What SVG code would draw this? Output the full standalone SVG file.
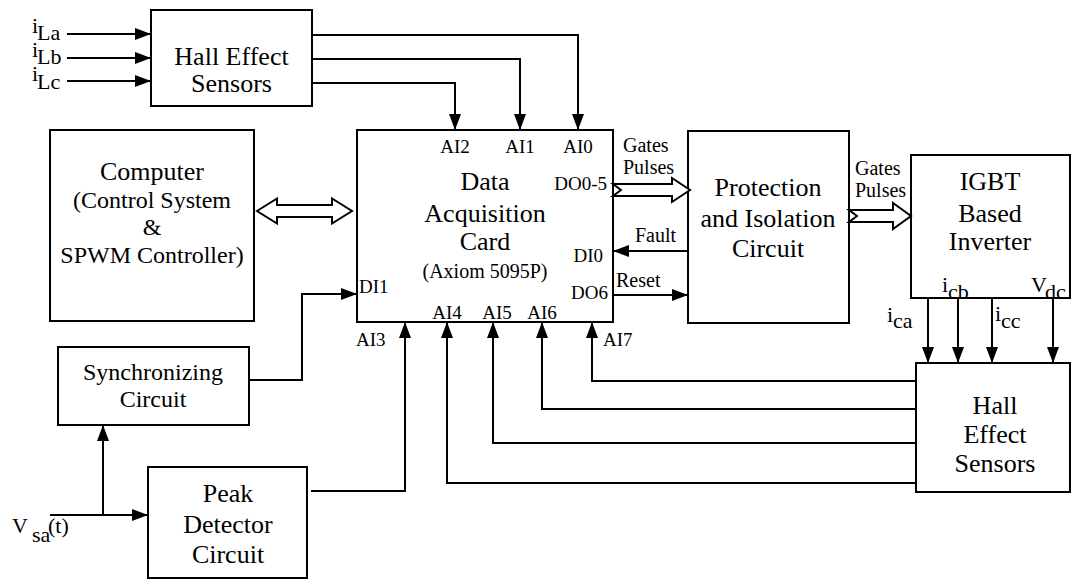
<svg xmlns="http://www.w3.org/2000/svg" width="1071" height="579" viewBox="0 0 1071 579" font-family="'Liberation Serif', 'DejaVu Serif', serif">
<style>
.box{fill:#fff;stroke:#000;stroke-width:2}
.ln{fill:none;stroke:#000;stroke-width:2}
.ha{fill:#fff;stroke:#000;stroke-width:2;stroke-linejoin:miter}
text{font-family:'Liberation Serif','DejaVu Serif',serif;fill:#000}
.t{font-size:26px;text-anchor:middle}
.t24{font-size:24px;text-anchor:middle}
.ax{font-size:20px;text-anchor:middle}
.pin{font-size:19px}
.pc{font-size:19px;text-anchor:middle}
.pe{font-size:19px;text-anchor:end}
.lb{font-size:20px}
.v{font-size:22px}
</style>
<defs>
<marker id="ah" markerWidth="16" markerHeight="12" refX="16" refY="6" orient="auto" markerUnits="userSpaceOnUse">
<path d="M0,0 L16,6 L0,12 z" fill="#000"/>
</marker>
</defs>
<rect width="1071" height="579" fill="#fff"/>

<g id="hall1">
<rect class="box" x="151" y="10" width="161" height="96"/>
<text class="t" x="231.5" y="65">Hall Effect</text>
<text class="t" x="231.5" y="92">Sensors</text>
</g>

<g id="computer">
<rect class="box" x="50" y="130" width="204" height="191"/>
<text class="t" x="152" y="180">Computer</text>
<text class="t24" x="152" y="208">(Control System</text>
<text class="t24" x="152" y="235">&amp;</text>
<text class="t24" x="152" y="263">SPWM Controller)</text>
</g>

<g id="daq">
<rect class="box" x="357" y="130" width="256" height="192"/>
<text class="t" x="485" y="190">Data</text>
<text class="t" x="485" y="222">Acquisition</text>
<text class="t" x="485" y="250">Card</text>
<text class="ax" x="485" y="278">(Axiom 5095P)</text>
<text class="pc" x="455" y="153">AI2</text>
<text class="pc" x="520" y="153">AI1</text>
<text class="pc" x="578" y="153">AI0</text>
<text class="pe" x="607" y="190">DO0-5</text>
<text class="pe" x="603" y="262">DI0</text>
<text class="pe" x="608" y="299">DO6</text>
<text class="pin" x="359" y="293">DI1</text>
<text class="pc" x="447" y="319">AI4</text>
<text class="pc" x="497" y="319">AI5</text>
<text class="pc" x="542" y="319">AI6</text>
<text class="pin" x="356" y="346">AI3</text>
<text class="pin" x="603" y="346">AI7</text>
</g>

<g id="protection">
<rect class="box" x="688" y="131" width="161" height="192"/>
<text class="t" x="768" y="196">Protection</text>
<text class="t" x="768" y="227">and Isolation</text>
<text class="t" x="768" y="257">Circuit</text>
</g>

<g id="igbt">
<rect class="box" x="911" y="155" width="159" height="143"/>
<text class="t" x="990" y="190">IGBT</text>
<text class="t" x="990" y="222">Based</text>
<text class="t" x="990" y="250">Inverter</text>
</g>

<g id="hall2">
<rect class="box" x="916" y="363" width="154" height="129"/>
<text class="t" x="995" y="414">Hall</text>
<text class="t" x="995" y="443">Effect</text>
<text class="t" x="995" y="472">Sensors</text>
</g>

<g id="sync">
<rect class="box" x="58" y="347" width="191" height="78"/>
<text class="t24" x="153" y="380">Synchronizing</text>
<text class="t24" x="153" y="407">Circuit</text>
</g>

<g id="peak">
<rect class="box" x="148" y="467" width="159" height="111"/>
<text class="t" x="228" y="502">Peak</text>
<text class="t" x="228" y="533">Detector</text>
<text class="t" x="228" y="563">Circuit</text>
</g>

<g id="connectors">
<line class="ln" x1="67" y1="34" x2="151" y2="34" marker-end="url(#ah)"/>
<line class="ln" x1="67" y1="58" x2="151" y2="58" marker-end="url(#ah)"/>
<line class="ln" x1="67" y1="81" x2="151" y2="81" marker-end="url(#ah)"/>
<polyline class="ln" points="312,35 578,35 578,130" marker-end="url(#ah)"/>
<polyline class="ln" points="312,59 520,59 520,130" marker-end="url(#ah)"/>
<polyline class="ln" points="312,83 455,83 455,130" marker-end="url(#ah)"/>
<polygon class="ha" points="257,211 277,198.5 277,205 332,205 332,198.5 352,211 332,223.5 332,217 277,217 277,223.5"/>
<polygon class="ha" points="613,184 672,184 672,178 690,190 672,202 672,196 613,196 621,190"/>
<line class="ln" x1="688" y1="251" x2="613" y2="251" marker-end="url(#ah)"/>
<line class="ln" x1="613" y1="295" x2="688" y2="295" marker-end="url(#ah)"/>
<polygon class="ha" points="849,210 893,210 893,203 911,216 893,229 893,222 849,222 857,216"/>
<line class="ln" x1="928" y1="298" x2="928" y2="363" marker-end="url(#ah)"/>
<line class="ln" x1="958" y1="298" x2="958" y2="363" marker-end="url(#ah)"/>
<line class="ln" x1="992" y1="298" x2="992" y2="363" marker-end="url(#ah)"/>
<line class="ln" x1="1053" y1="298" x2="1053" y2="363" marker-end="url(#ah)"/>
<polyline class="ln" points="916,381 592,381 592,322" marker-end="url(#ah)"/>
<polyline class="ln" points="916,409 542,409 542,322" marker-end="url(#ah)"/>
<polyline class="ln" points="916,443 493,443 493,322" marker-end="url(#ah)"/>
<polyline class="ln" points="916,483 447,483 447,322" marker-end="url(#ah)"/>
<polyline class="ln" points="311,491 405,491 405,322" marker-end="url(#ah)"/>
<polyline class="ln" points="249,380 302,380 302,294 357,294" marker-end="url(#ah)"/>
<line class="ln" x1="50" y1="515" x2="148" y2="515" marker-end="url(#ah)"/>
<line class="ln" x1="103" y1="515" x2="103" y2="425" marker-end="url(#ah)"/>
</g>

<g id="labels">
<text class="v" x="32" y="33">i</text><text class="v" x="37" y="40">La</text>
<text class="v" x="32" y="57">i</text><text class="v" x="37" y="64">Lb</text>
<text class="v" x="32" y="81">i</text><text class="v" x="37" y="89">Lc</text>
<text class="lb" x="623" y="152">Gates</text>
<text class="lb" x="623" y="174">Pulses</text>
<text class="lb" x="635" y="242">Fault</text>
<text class="lb" x="616" y="287">Reset</text>
<text class="lb" x="855" y="175">Gates</text>
<text class="lb" x="855" y="197">Pulses</text>
<text class="v" x="887" y="322">i</text><text class="v" x="893" y="328">ca</text>
<text class="v" x="942" y="292">i</text><text class="v" x="948" y="299">cb</text>
<text class="v" x="995" y="321">i</text><text class="v" x="1001" y="328">cc</text>
<text class="v" x="1031" y="292">V</text><text class="v" x="1045" y="299">dc</text>
<text class="v" x="12" y="533">V</text><text class="v" x="32" y="542">sa</text><text class="v" x="48" y="533">(t)</text>
</g>
</svg>
